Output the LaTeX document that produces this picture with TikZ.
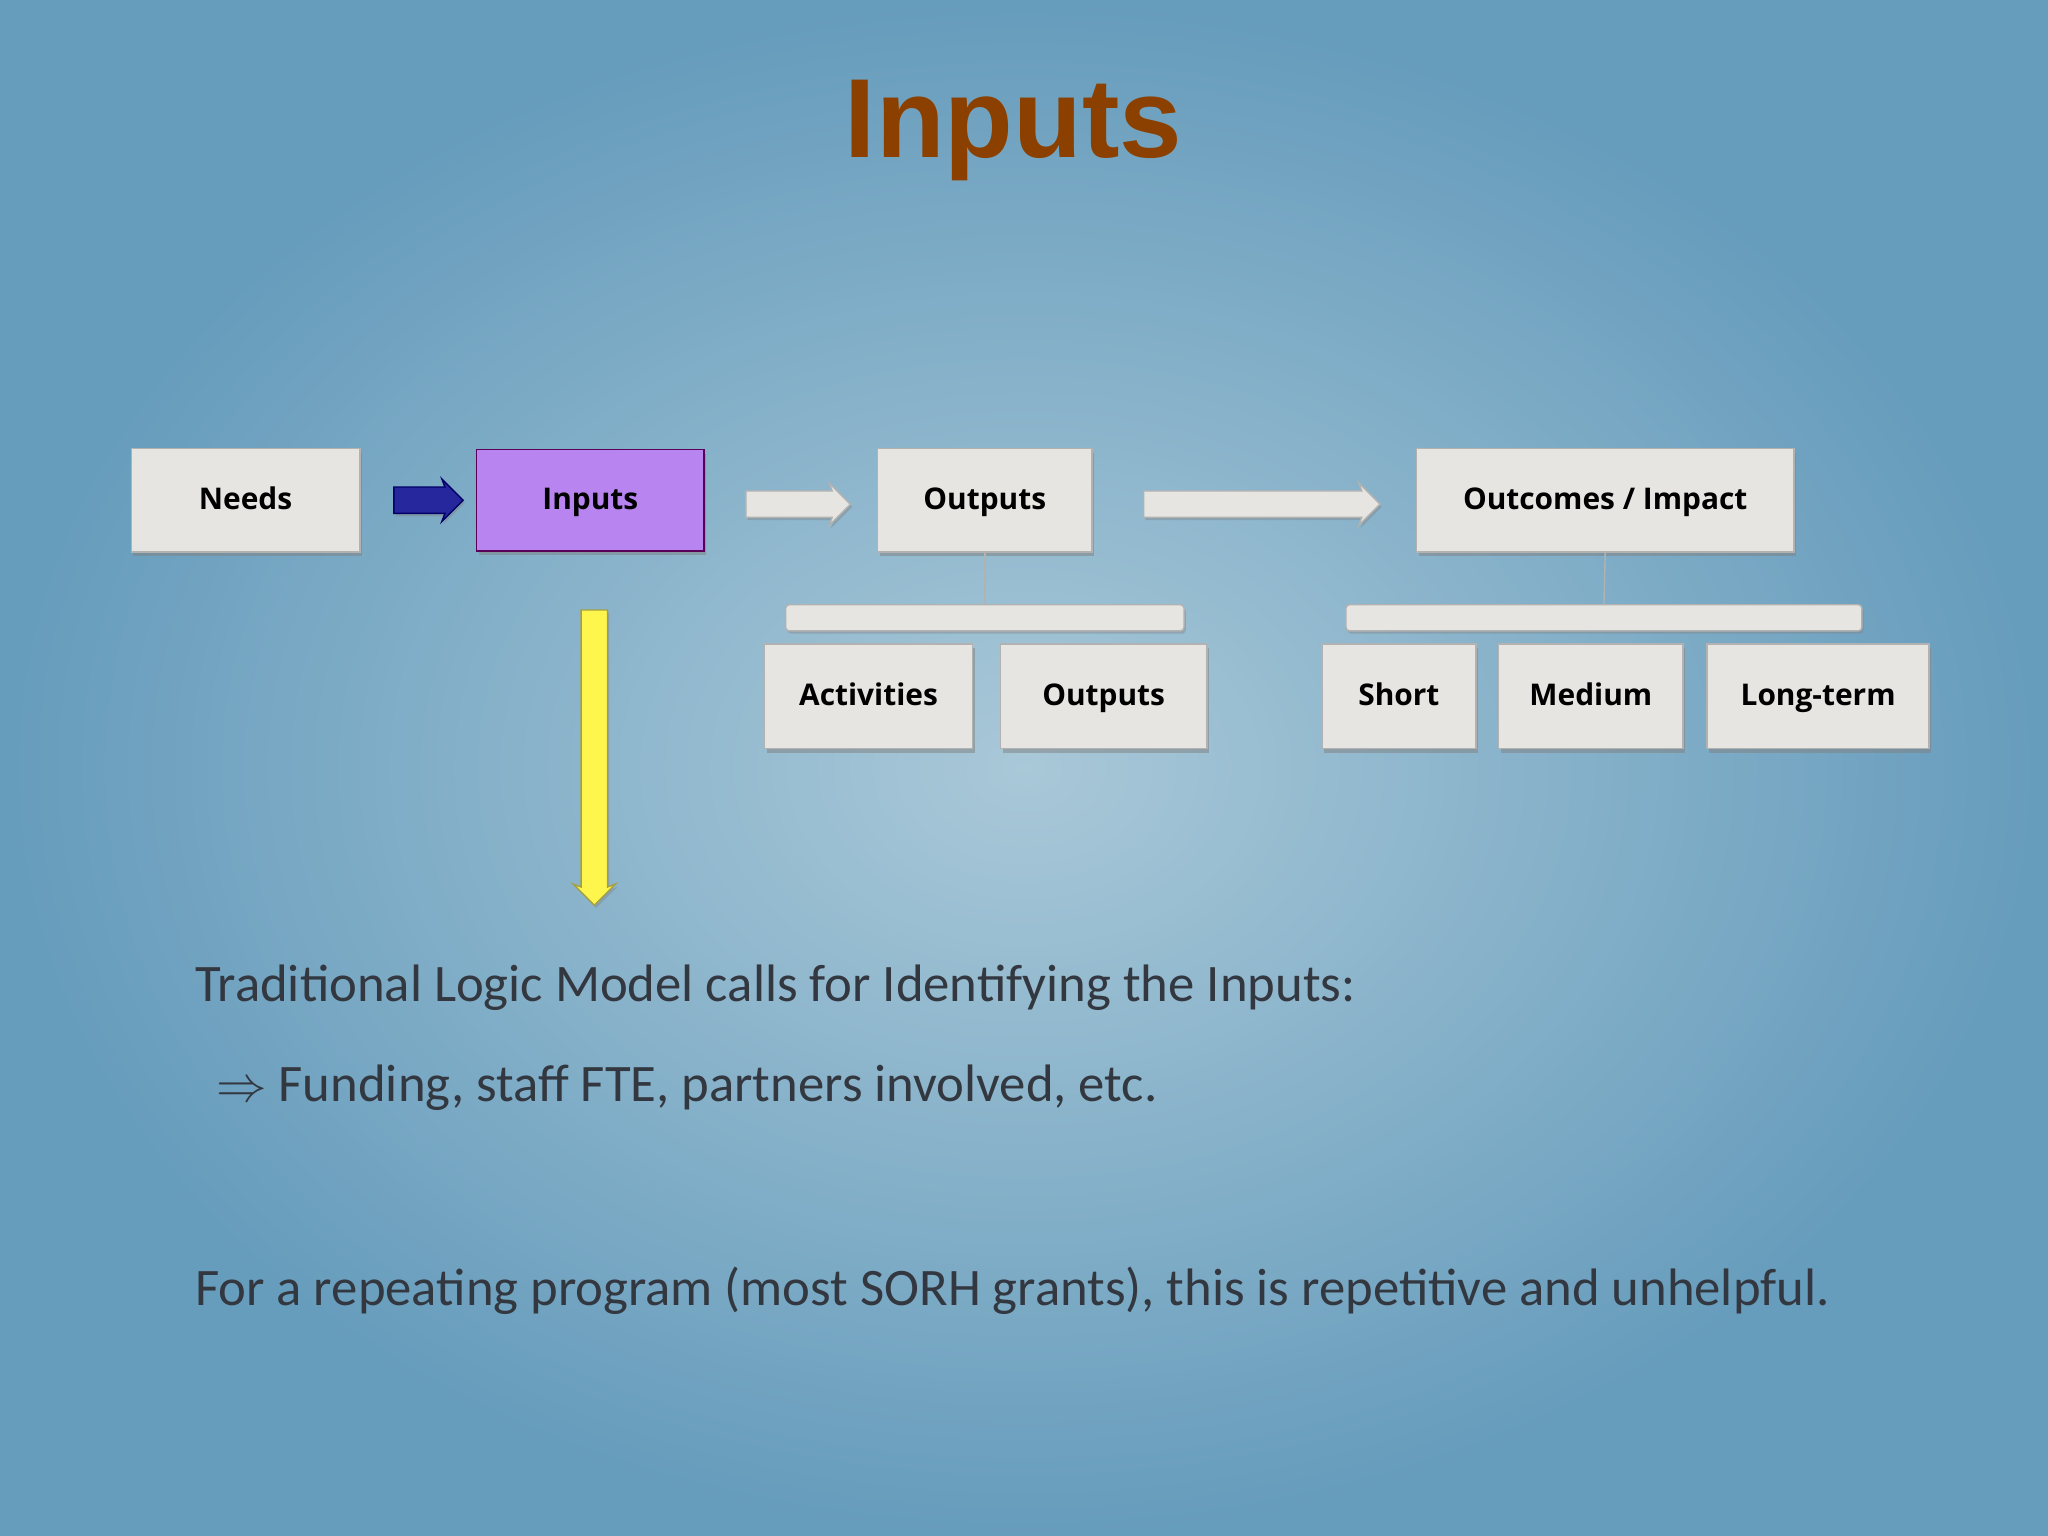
\documentclass[tikz,border=0pt]{standalone}
\usepackage{fontspec}
\setmainfont{Carlito}
\newfontfamily\boxfont{Open Sans}
\newfontfamily\titlefont{Liberation Sans}
\usetikzlibrary{arrows.meta,positioning,shadows,shapes.arrows}
\definecolor{bgin}{HTML}{A9C8D8}
\definecolor{bgout}{HTML}{669CBC}
\definecolor{boxgray}{HTML}{E6E5E1}
\definecolor{inpurple}{HTML}{B784F0}
\definecolor{titlebrown}{HTML}{8B4000}
\definecolor{txtgray}{HTML}{333840}

\tikzset{
  stage/.style={draw=gray!60,fill=boxgray,text height=1.6ex,text depth=.5ex,
    font=\boxfont\bfseries\fontsize{8.5}{10}\selectfont,
    drop shadow={shadow xshift=0.6pt,shadow yshift=-1.2pt,opacity=.5}},
  flow/.style={single arrow,draw=gray!60,fill=boxgray,minimum height=#1,
    inner sep=1.25mm,single arrow head extend=0.8mm,
    single arrow head indent=0.3mm,
    drop shadow={shadow xshift=0.5pt,shadow yshift=-0.8pt,opacity=.4}},
  bar/.style={draw=gray!60,fill=boxgray,rounded corners=1pt,
    drop shadow={shadow xshift=0.5pt,shadow yshift=-0.8pt,opacity=.4}},
  body/.style={anchor=west,text=txtgray,font=\fontsize{15}{18}\selectfont}
}

\begin{document}
\begin{tikzpicture}[x=0.01306cm,y=-0.01306cm]
  \shade[inner color=bgin,outer color=bgout] (0,0) rectangle (1568,1176);
  \useasboundingbox (0,0) rectangle (1568,1176);

  \node[text=titlebrown,font=\titlefont\bfseries\fontsize{32}{36}\selectfont] (title) at (776,100) {Inputs};

  % top row
  \node[stage,minimum width=175*0.01306cm,minimum height=79*0.01306cm] (needs) at (188,383) {Needs};
  \node[stage,fill=inpurple,draw=violet!70!black,minimum width=174*0.01306cm,minimum height=78*0.01306cm] (inputs) at (452,383) {Inputs};
  \node[stage,minimum width=164*0.01306cm,minimum height=79*0.01306cm] (outputs) at (754,383) {Outputs};
  \node[stage,minimum width=289*0.01306cm,minimum height=79*0.01306cm] (outcomes) at (1229,383) {Outcomes / Impact};

  % connectors
  \node[flow=53*0.01306cm,fill=blue!55!black!85,draw=blue!40!black] (a1) at (323,383) {};
  \node[flow=80*0.01306cm] (a2) at (606,386) {};
  \node[flow=181*0.01306cm] (a3) at (961,386) {};
  \node[flow=226*0.01306cm,shape border rotate=270,fill=yellow!70,draw=yellow!60!black] (a4) at (455,575) {};

  % brackets
  \node[bar,minimum width=305*0.01306cm,minimum height=20*0.01306cm] (bar1) at (754,473) {};
  \node[bar,minimum width=395*0.01306cm,minimum height=20*0.01306cm] (bar2) at (1228,473) {};
  \draw[gray!60] (bar1.north) -- (outputs.south);
  \draw[gray!60] (bar2.north) -- (outcomes.south);

  % second row
  \node[stage,minimum width=159*0.01306cm,minimum height=80*0.01306cm] (act) at (665,533) {Activities};
  \node[stage,minimum width=158*0.01306cm,minimum height=80*0.01306cm] (outs) at (845,533) {Outputs};
  \node[stage,minimum width=118*0.01306cm,minimum height=80*0.01306cm] (short) at (1071,533) {Short};
  \node[stage,minimum width=141*0.01306cm,minimum height=80*0.01306cm] (medium) at (1218,533) {Medium};
  \node[stage,minimum width=170*0.01306cm,minimum height=80*0.01306cm] (long) at (1392,533) {Long-term};

  % text
  \node[body] (t1) at (140,756) {Traditional Logic Model calls for Identifying the Inputs:};
  \node[body] (t2) at (156,833) {$\Rightarrow$ Funding, staff FTE, partners involved, etc.};
  \node[body] (t3) at (140,988) {For a repeating program (most SORH grants), this is repetitive and unhelpful.};
\end{tikzpicture}
\end{document}
